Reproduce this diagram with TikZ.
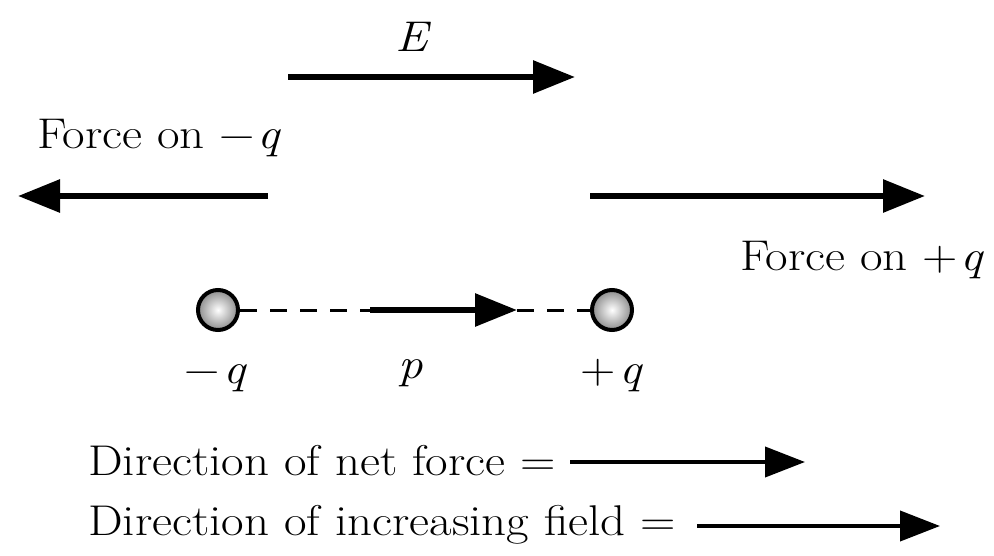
\documentclass[tikz,border=0pt]{standalone}
\usepackage{fontspec}
\setmainfont{Latin Modern Roman}[FakeStretch=1.14]
\usetikzlibrary{arrows.meta}
\begin{document}
\begin{tikzpicture}[x=1pt,y=-1pt,
  lbl/.style={font=\fontsize{43}{48}\selectfont, inner sep=0pt},
  bigarrow/.style={line width=6pt, -{Triangle[length=42pt,width=32pt]}},
  smallarrow/.style={line width=4pt, -{Triangle[length=40pt,width=30pt]}},
  charge/.style={circle, draw, line width=4pt, minimum size=40pt, inner sep=0pt, inner color=white, outer color=black!45},
  dashline/.style={line width=3pt, dash pattern=on 17pt off 13pt}]
\useasboundingbox (0,0) rectangle (994,555);
% field E
\node[lbl] (E) at (413,37) {\textit{E}};
\coordinate (e1) at (288,77);
\coordinate (e2) at (575,77);
\draw[bigarrow] (e1) -- (e2);
% forces
\node[lbl, anchor=base west] (fm) at (37,148) {Force on −\kern3pt\textit{q}};
\coordinate (fm1) at (268,196);
\coordinate (fm2) at (18,196);
\draw[bigarrow] (fm1) -- (fm2);
\coordinate (fp1) at (590,196);
\coordinate (fp2) at (925,196);
\draw[bigarrow] (fp1) -- (fp2);
\node[lbl, anchor=base east] (fp) at (985,270) {Force on +\kern3pt\textit{q}};
% dipole
\node[charge] (qm) at (218,310) {};
\node[charge] (qp) at (612,310) {};
\coordinate (p1) at (370,310);
\coordinate (p2) at (517,310);
\draw[dashline] (qm.east) -- (p1);
\draw[bigarrow] (p1) -- (p2);
\draw[dashline] (p2) -- (qp.west);
\node[lbl, anchor=base] (lqm) at (216,383) {−\kern3pt\textit{q}};
\node[lbl, anchor=base] (lp) at (411,378) {\textit{p}};
\node[lbl, anchor=base] (lqp) at (612,383) {+\kern3pt\textit{q}};
% bottom
\node[lbl, anchor=base west] (net) at (88,475) {Direction of net force =};
\coordinate (n1) at (570,462);
\coordinate (n2) at (805,462);
\draw[smallarrow] (n1) -- (n2);
\node[lbl, anchor=base west] (inc) at (88,535) {Direction of increasing field =};
\coordinate (i1) at (697,526);
\coordinate (i2) at (940,526);
\draw[smallarrow] (i1) -- (i2);
\end{tikzpicture}
\end{document}
